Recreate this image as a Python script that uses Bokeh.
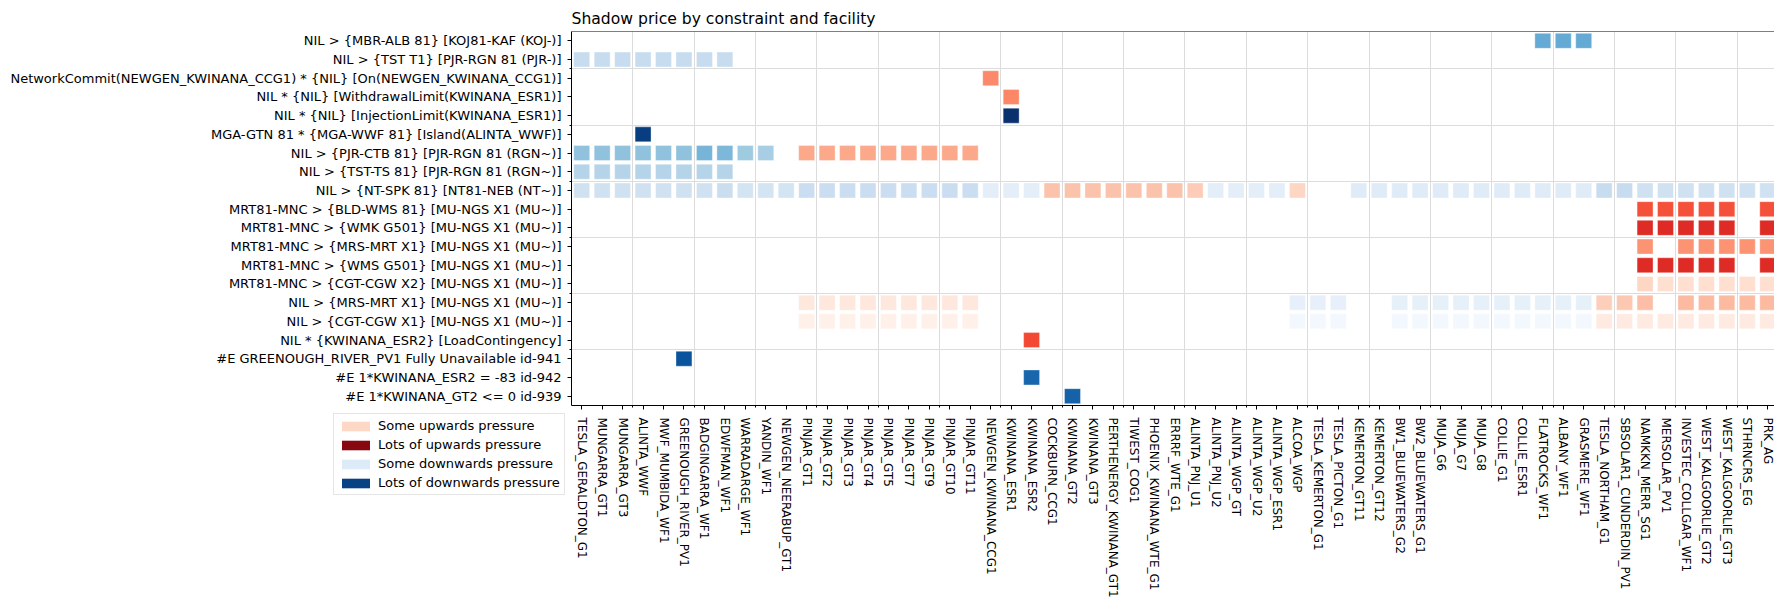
import math
import numpy as np
from bokeh.plotting import figure
from bokeh.layouts import column
from bokeh.models import ColumnDataSource, LinearColorMapper, FixedTicker, Legend, LegendItem, Span
from bokeh.embed import file_html
from bokeh.resources import INLINE

# ---------------- data ----------------
facilities = [
    "TESLA_GERALDTON_G1", "MUNGARRA_GT1", "MUNGARRA_GT3", "ALINTA_WWF", "MWF_MUMBIDA_WF1",
    "GREENOUGH_RIVER_PV1", "BADGINGARRA_WF1", "EDWFMAN_WF1", "WARRADARGE_WF1", "YANDIN_WF1",
    "NEWGEN_NEERABUP_GT1", "PINJAR_GT1", "PINJAR_GT2", "PINJAR_GT3", "PINJAR_GT4", "PINJAR_GT5",
    "PINJAR_GT7", "PINJAR_GT9", "PINJAR_GT10", "PINJAR_GT11", "NEWGEN_KWINANA_CCG1",
    "KWINANA_ESR1", "KWINANA_ESR2", "COCKBURN_CCG1", "KWINANA_GT2", "KWINANA_GT3",
    "PERTHENERGY_KWINANA_GT1", "TIWEST_COG1", "PHOENIX_KWINANA_WTE_G1", "ERRRF_WTE_G1",
    "ALINTA_PNJ_U1", "ALINTA_PNJ_U2", "ALINTA_WGP_GT", "ALINTA_WGP_U2", "ALINTA_WGP_ESR1",
    "ALCOA_WGP", "TESLA_KEMERTON_G1", "TESLA_PICTON_G1", "KEMERTON_GT11", "KEMERTON_GT12",
    "BW1_BLUEWATERS_G2", "BW2_BLUEWATERS_G1", "MUJA_G6", "MUJA_G7", "MUJA_G8", "COLLIE_G1",
    "COLLIE_ESR1", "FLATROCKS_WF1", "ALBANY_WF1", "GRASMERE_WF1", "TESLA_NORTHAM_G1",
    "SBSOLAR1_CUNDERDIN_PV1", "NAMKKN_MERR_SG1", "MERSOLAR_PV1", "INVESTEC_COLLGAR_WF1",
    "WEST_KALGOORLIE_GT2", "WEST_KALGOORLIE_GT3", "STHRNCRS_EG", "PRK_AG",
]

constraints = [
    "NIL > {MBR-ALB 81} [KOJ81-KAF (KOJ-)]",
    "NIL > {TST T1} [PJR-RGN 81 (PJR-)]",
    "NetworkCommit(NEWGEN_KWINANA_CCG1) * {NIL} [On(NEWGEN_KWINANA_CCG1)]",
    "NIL * {NIL} [WithdrawalLimit(KWINANA_ESR1)]",
    "NIL * {NIL} [InjectionLimit(KWINANA_ESR1)]",
    "MGA-GTN 81 * {MGA-WWF 81} [Island(ALINTA_WWF)]",
    "NIL > {PJR-CTB 81} [PJR-RGN 81 (RGN~)]",
    "NIL > {TST-TS 81} [PJR-RGN 81 (RGN~)]",
    "NIL > {NT-SPK 81} [NT81-NEB (NT~)]",
    "MRT81-MNC > {BLD-WMS 81} [MU-NGS X1 (MU~)]",
    "MRT81-MNC > {WMK G501} [MU-NGS X1 (MU~)]",
    "MRT81-MNC > {MRS-MRT X1} [MU-NGS X1 (MU~)]",
    "MRT81-MNC > {WMS G501} [MU-NGS X1 (MU~)]",
    "MRT81-MNC > {CGT-CGW X2} [MU-NGS X1 (MU~)]",
    "NIL > {MRS-MRT X1} [MU-NGS X1 (MU~)]",
    "NIL > {CGT-CGW X1} [MU-NGS X1 (MU~)]",
    "NIL * {KWINANA_ESR2} [LoadContingency]",
    "#E GREENOUGH_RIVER_PV1 Fully Unavailable id-941",
    "#E 1*KWINANA_ESR2 = -83 id-942",
    "#E 1*KWINANA_GT2 <= 0 id-939",
]

# normalised shadow price (negative = downwards pressure, positive = upwards pressure)
row_mbr_alb = [("FLATROCKS_WF1", -0.52), ("ALBANY_WF1", -0.52), ("GRASMERE_WF1", -0.52)]
row_tst_t1 = [("TESLA_GERALDTON_G1", -0.25), ("MUNGARRA_GT1", -0.25), ("MUNGARRA_GT3", -0.25),
              ("ALINTA_WWF", -0.25), ("MWF_MUMBIDA_WF1", -0.25), ("GREENOUGH_RIVER_PV1", -0.25),
              ("BADGINGARRA_WF1", -0.25), ("EDWFMAN_WF1", -0.25)]
row_netcommit = [("NEWGEN_KWINANA_CCG1", 0.40)]
row_withdrawal = [("KWINANA_ESR1", 0.41)]
row_injection = [("KWINANA_ESR1", -1.00)]
row_island = [("ALINTA_WWF", -0.95)]
row_pjr_ctb = [("TESLA_GERALDTON_G1", -0.41), ("MUNGARRA_GT1", -0.41), ("MUNGARRA_GT3", -0.41),
               ("ALINTA_WWF", -0.41), ("MWF_MUMBIDA_WF1", -0.41), ("GREENOUGH_RIVER_PV1", -0.41),
               ("BADGINGARRA_WF1", -0.47), ("EDWFMAN_WF1", -0.46), ("WARRADARGE_WF1", -0.375),
               ("YANDIN_WF1", -0.35),
               ("PINJAR_GT1", 0.31), ("PINJAR_GT2", 0.31), ("PINJAR_GT3", 0.31), ("PINJAR_GT4", 0.31),
               ("PINJAR_GT5", 0.31), ("PINJAR_GT7", 0.31), ("PINJAR_GT9", 0.31), ("PINJAR_GT10", 0.31),
               ("PINJAR_GT11", 0.31)]
row_tst_ts = [("TESLA_GERALDTON_G1", -0.30), ("MUNGARRA_GT1", -0.30), ("MUNGARRA_GT3", -0.30),
              ("ALINTA_WWF", -0.30), ("MWF_MUMBIDA_WF1", -0.30), ("GREENOUGH_RIVER_PV1", -0.30),
              ("BADGINGARRA_WF1", -0.30), ("EDWFMAN_WF1", -0.30)]
row_nt_spk = [("TESLA_GERALDTON_G1", -0.20), ("MUNGARRA_GT1", -0.20), ("MUNGARRA_GT3", -0.20),
              ("ALINTA_WWF", -0.20), ("MWF_MUMBIDA_WF1", -0.20), ("GREENOUGH_RIVER_PV1", -0.20),
              ("BADGINGARRA_WF1", -0.20), ("EDWFMAN_WF1", -0.23), ("WARRADARGE_WF1", -0.18),
              ("YANDIN_WF1", -0.18), ("NEWGEN_NEERABUP_GT1", -0.18),
              ("PINJAR_GT1", -0.22), ("PINJAR_GT2", -0.22), ("PINJAR_GT3", -0.22), ("PINJAR_GT4", -0.22),
              ("PINJAR_GT5", -0.22), ("PINJAR_GT7", -0.22), ("PINJAR_GT9", -0.22), ("PINJAR_GT10", -0.22),
              ("PINJAR_GT11", -0.22),
              ("NEWGEN_KWINANA_CCG1", -0.10), ("KWINANA_ESR1", -0.10), ("KWINANA_ESR2", -0.10),
              ("COCKBURN_CCG1", 0.22), ("KWINANA_GT2", 0.22), ("KWINANA_GT3", 0.22),
              ("PERTHENERGY_KWINANA_GT1", 0.22), ("TIWEST_COG1", 0.22), ("PHOENIX_KWINANA_WTE_G1", 0.22),
              ("ERRRF_WTE_G1", 0.22), ("ALINTA_PNJ_U1", 0.19),
              ("ALINTA_PNJ_U2", -0.10), ("ALINTA_WGP_GT", -0.10), ("ALINTA_WGP_U2", -0.10),
              ("ALINTA_WGP_ESR1", -0.10), ("ALCOA_WGP", 0.16),
              ("KEMERTON_GT11", -0.12), ("KEMERTON_GT12", -0.12), ("BW1_BLUEWATERS_G2", -0.12),
              ("BW2_BLUEWATERS_G1", -0.12), ("MUJA_G6", -0.12), ("MUJA_G7", -0.12), ("MUJA_G8", -0.12),
              ("COLLIE_G1", -0.12), ("COLLIE_ESR1", -0.12), ("FLATROCKS_WF1", -0.12),
              ("ALBANY_WF1", -0.12), ("GRASMERE_WF1", -0.12),
              ("TESLA_NORTHAM_G1", -0.24), ("SBSOLAR1_CUNDERDIN_PV1", -0.24),
              ("NAMKKN_MERR_SG1", -0.20), ("MERSOLAR_PV1", -0.20), ("INVESTEC_COLLGAR_WF1", -0.20),
              ("WEST_KALGOORLIE_GT2", -0.20), ("WEST_KALGOORLIE_GT3", -0.20), ("STHRNCRS_EG", -0.20),
              ("PRK_AG", -0.20)]
row_bld_wms = [("NAMKKN_MERR_SG1", 0.57), ("MERSOLAR_PV1", 0.57), ("INVESTEC_COLLGAR_WF1", 0.57),
               ("WEST_KALGOORLIE_GT2", 0.57), ("WEST_KALGOORLIE_GT3", 0.57), ("PRK_AG", 0.57)]
row_wmk_g501 = [("NAMKKN_MERR_SG1", 0.68), ("MERSOLAR_PV1", 0.68), ("INVESTEC_COLLGAR_WF1", 0.68),
                ("WEST_KALGOORLIE_GT2", 0.68), ("WEST_KALGOORLIE_GT3", 0.68), ("PRK_AG", 0.68)]
row_mrt_mrs_mrt = [("NAMKKN_MERR_SG1", 0.37), ("INVESTEC_COLLGAR_WF1", 0.37), ("WEST_KALGOORLIE_GT2", 0.37),
                   ("WEST_KALGOORLIE_GT3", 0.37), ("STHRNCRS_EG", 0.37), ("PRK_AG", 0.37)]
row_wms_g501 = [("NAMKKN_MERR_SG1", 0.68), ("MERSOLAR_PV1", 0.68), ("INVESTEC_COLLGAR_WF1", 0.68),
                ("WEST_KALGOORLIE_GT2", 0.68), ("WEST_KALGOORLIE_GT3", 0.68), ("PRK_AG", 0.68)]
row_cgt_cgw_x2 = [("NAMKKN_MERR_SG1", 0.16), ("MERSOLAR_PV1", 0.13), ("INVESTEC_COLLGAR_WF1", 0.13),
                  ("WEST_KALGOORLIE_GT2", 0.13), ("WEST_KALGOORLIE_GT3", 0.13), ("STHRNCRS_EG", 0.13),
                  ("PRK_AG", 0.13)]
row_nil_mrs_mrt = [("PINJAR_GT1", 0.08), ("PINJAR_GT2", 0.08), ("PINJAR_GT3", 0.08), ("PINJAR_GT4", 0.08),
                   ("PINJAR_GT5", 0.08), ("PINJAR_GT7", 0.08), ("PINJAR_GT9", 0.08), ("PINJAR_GT10", 0.08),
                   ("PINJAR_GT11", 0.08),
                   ("ALCOA_WGP", -0.08), ("TESLA_KEMERTON_G1", -0.08), ("TESLA_PICTON_G1", -0.08),
                   ("BW1_BLUEWATERS_G2", -0.09), ("BW2_BLUEWATERS_G1", -0.09), ("MUJA_G6", -0.09),
                   ("MUJA_G7", -0.09), ("MUJA_G8", -0.09), ("COLLIE_G1", -0.09), ("COLLIE_ESR1", -0.09),
                   ("FLATROCKS_WF1", -0.09), ("ALBANY_WF1", -0.09), ("GRASMERE_WF1", -0.09),
                   ("TESLA_NORTHAM_G1", 0.18), ("SBSOLAR1_CUNDERDIN_PV1", 0.21), ("NAMKKN_MERR_SG1", 0.24),
                   ("INVESTEC_COLLGAR_WF1", 0.25), ("WEST_KALGOORLIE_GT2", 0.25),
                   ("WEST_KALGOORLIE_GT3", 0.25), ("STHRNCRS_EG", 0.25), ("PRK_AG", 0.25)]
row_nil_cgt_cgw = [("PINJAR_GT1", 0.03), ("PINJAR_GT2", 0.03), ("PINJAR_GT3", 0.03), ("PINJAR_GT4", 0.03),
                   ("PINJAR_GT5", 0.03), ("PINJAR_GT7", 0.03), ("PINJAR_GT9", 0.03), ("PINJAR_GT10", 0.03),
                   ("PINJAR_GT11", 0.03),
                   ("ALCOA_WGP", -0.03), ("TESLA_KEMERTON_G1", -0.03), ("TESLA_PICTON_G1", -0.03),
                   ("BW1_BLUEWATERS_G2", -0.03), ("BW2_BLUEWATERS_G1", -0.03), ("MUJA_G6", -0.03),
                   ("MUJA_G7", -0.03), ("MUJA_G8", -0.03), ("COLLIE_G1", -0.03), ("COLLIE_ESR1", -0.03),
                   ("FLATROCKS_WF1", -0.03), ("ALBANY_WF1", -0.03), ("GRASMERE_WF1", -0.03),
                   ("TESLA_NORTHAM_G1", 0.07), ("SBSOLAR1_CUNDERDIN_PV1", 0.07), ("NAMKKN_MERR_SG1", 0.07),
                   ("MERSOLAR_PV1", 0.07), ("INVESTEC_COLLGAR_WF1", 0.07), ("WEST_KALGOORLIE_GT2", 0.07),
                   ("WEST_KALGOORLIE_GT3", 0.07), ("STHRNCRS_EG", 0.07), ("PRK_AG", 0.07)]
row_load_cont = [("KWINANA_ESR2", 0.59)]
row_e941 = [("GREENOUGH_RIVER_PV1", -0.86)]
row_e942 = [("KWINANA_ESR2", -0.79)]
row_e939 = [("KWINANA_GT2", -0.81)]

rows = [row_mbr_alb, row_tst_t1, row_netcommit, row_withdrawal, row_injection, row_island,
        row_pjr_ctb, row_tst_ts, row_nt_spk, row_bld_wms, row_wmk_g501, row_mrt_mrs_mrt,
        row_wms_g501, row_cgt_cgw_x2, row_nil_mrs_mrt, row_nil_cgt_cgw, row_load_cont,
        row_e941, row_e942, row_e939]

legend_labels = ["Some upwards pressure", "Lots of upwards pressure",
                 "Some downwards pressure", "Lots of downwards pressure"]
legend_values = [0.15, 0.93, -0.13, -0.93]

# ---------------- colour scale (Blues <- 0 -> Reds) ----------------
BLUES = ["#f7fbff", "#deebf7", "#c6dbef", "#9ecae1", "#6baed6", "#4292c6", "#2171b5", "#08519c", "#08306b"]
REDS = ["#fff5f0", "#fee0d2", "#fcbba1", "#fc9272", "#fb6a4a", "#ef3b2c", "#cb181d", "#a50f15", "#67000d"]


def ramp(anchors, t):
    rgb = np.array([[int(h[i:i + 2], 16) for i in (1, 3, 5)] for h in anchors], float)
    pos = np.linspace(0, 1, len(anchors))
    c = [int(round(np.interp(t, pos, rgb[:, k]))) for k in range(3)]
    return "#%02x%02x%02x" % tuple(c)


NHALF = 128
palette = [ramp(BLUES, 1 - (i + 0.5) / NHALF) for i in range(NHALF)] + \
          [ramp(REDS, (i + 0.5) / NHALF) for i in range(NHALF)]
mapper = LinearColorMapper(palette=palette, low=-1, high=1)

# ---------------- build cell table ----------------
nrow = len(constraints)
xs, ys, vs = [], [], []
for r, cells in enumerate(rows):
    for fac, val in cells:
        xs.append(facilities.index(fac))
        ys.append(nrow - 1 - r)
        vs.append(val)
src = ColumnDataSource(dict(x=xs, y=ys, v=vs))

# ---------------- main figure ----------------
FONT = "DejaVu Sans"
p = figure(width=1774, height=607, x_range=(-0.5, 58.33), y_range=(-0.5, nrow - 0.5),
           output_backend="svg", toolbar_location=None,
           title="Shadow price by constraint and facility",
           min_border_left=571, min_border_right=0, min_border_top=31, min_border_bottom=202)
p.title.text_font = FONT
p.title.text_font_size = "15.6px"
p.title.text_font_style = "normal"
p.title.text_color = "black"
p.title.align = "left"
p.title.standoff = 7
p.title.offset = 0

p.outline_line_color = None
p.background_fill_color = "white"
p.border_fill_color = "white"

p.rect(x="x", y="y", width=0.78, height=0.8, source=src,
       fill_color={"field": "v", "transform": mapper},
       line_color="white", line_alpha=0.35, line_width=1)

# grid between every third cell
p.xgrid.ticker = FixedTicker(ticks=[2.5 + 3 * k for k in range(19)])
p.ygrid.ticker = FixedTicker(ticks=[2.5 + 3 * k for k in range(6)])
for g in (p.xgrid, p.ygrid):
    g.grid_line_color = "#dcdcdc"
    g.grid_line_width = 1

# x axis
p.xaxis.ticker = FixedTicker(ticks=list(range(len(facilities))),
                             minor_ticks=[2.5 + 3 * k for k in range(19)])
p.xaxis.major_label_overrides = {i: f for i, f in enumerate(facilities)}
p.xaxis.major_label_orientation = -math.pi / 2
p.xaxis.major_label_text_font_size = "12px"
p.xaxis.major_label_standoff = 8
# y axis
p.yaxis.ticker = FixedTicker(ticks=list(range(nrow)), minor_ticks=[2.5 + 3 * k for k in range(6)])
p.yaxis.major_label_overrides = {nrow - 1 - i: c for i, c in enumerate(constraints)}
p.yaxis.major_label_text_font_size = "13px"
p.yaxis.major_label_standoff = 6

for ax in (p.xaxis, p.yaxis):
    ax.major_label_text_font = FONT
    ax.major_label_text_color = "black"
    ax.axis_line_color = "black"
    ax.axis_line_width = 1
    ax.major_tick_line_color = "black"
    ax.minor_tick_line_color = "black"
    ax.major_tick_out = 4
    ax.major_tick_in = 0
    ax.minor_tick_out = 2
    ax.minor_tick_in = 0

# top spine
p.add_layout(Span(location=nrow - 0.5, dimension="width", line_color="black", line_width=1))

# ---------------- legend (its own small figure, laid over the page) ----------------
lg = figure(width=240, height=92, x_range=(0, 1), y_range=(0, 1),
            output_backend="svg", toolbar_location=None,
            x_axis_type=None, y_axis_type=None, min_border=0)
lg.grid.visible = False
lg.outline_line_color = None
lg.background_fill_alpha = 0
lg.border_fill_alpha = 0
items = []
for lab, v in zip(legend_labels, legend_values):
    # one off-range point per entry so the legend swatch is drawn through the colour mapper
    s = ColumnDataSource(dict(x=[-5.0], y=[-5.0], v=[v]))
    r = lg.rect(x="x", y="y", width=0.1, height=0.1, source=s,
                fill_color={"field": "v", "transform": mapper}, line_color=None)
    items.append(LegendItem(label=lab, renderers=[r], index=0))
legend = Legend(items=items, location="top_left", orientation="vertical",
                label_text_font=FONT, label_text_font_size="13px", label_text_color="black",
                glyph_width=35, glyph_height=12, label_standoff=5, label_height=15,
                spacing=4, padding=4, margin=1,
                border_line_color="#cccccc", border_line_width=1,
                background_fill_color="white", background_fill_alpha=1.0)
lg.add_layout(legend)
lg.styles = {"position": "absolute", "left": "332px", "top": "412px"}

layout = column(p, lg)
layout.styles = {"position": "relative"}

open("out.html", "w").write(file_html(layout, INLINE))
